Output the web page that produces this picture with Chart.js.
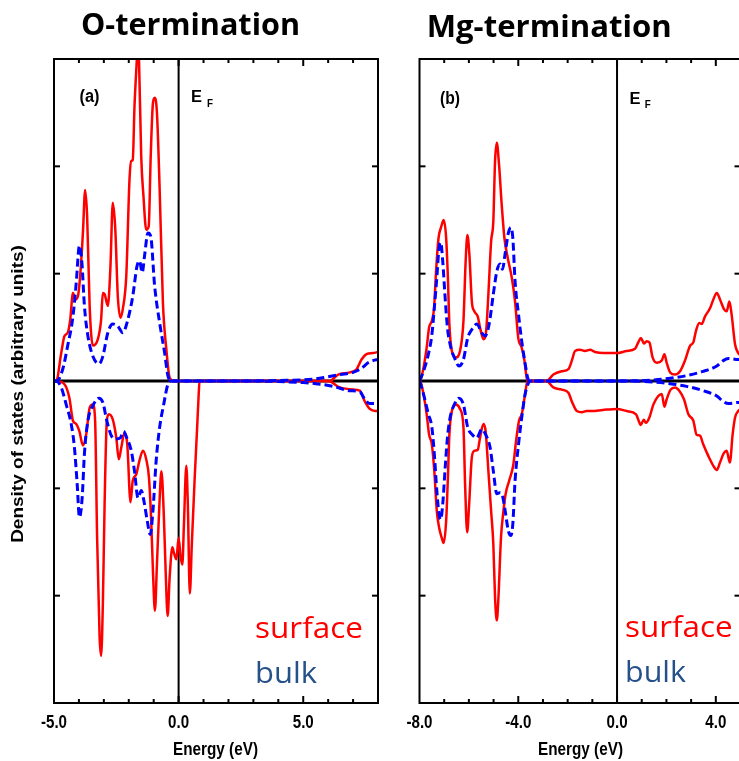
<!DOCTYPE html>
<html>
<head>
<meta charset="utf-8">
<script src="https://cdn.jsdelivr.net/npm/chart.js@4.4.1/dist/chart.umd.min.js"></script>
<style>
    html, body { margin: 0; padding: 0; background: #fff; overflow: hidden; width: 739px; height: 761px; }
    .panel { position: absolute; top: 0; width: 380px; height: 761px; }
    #wrapA { left: 0; }
    #wrapB { left: 380px; }
</style>
</head>
<body>
<div class="panel" id="wrapA"><canvas id="chartA" width="380" height="761"></canvas></div>
<div class="panel" id="wrapB"><canvas id="chartB" width="380" height="761"></canvas></div>
<script>
// axis ranges and labelled ticks
const xRangeA = [-5, 8];
const xRangeB = [-8, 5];
const yRange = [-3, 3];
const xTicksA = [-5, 0, 5];
const xTicksB = [-8, -4, 0, 4];
const yTicks = [-2, -1, 1, 2];

// (a) O-termination, [energy eV, DOS]
const surfUpA = [[-5.0,0],[-4.91,0],[-4.71,0.26],[-4.58,0.42],[-4.45,0.45],[-4.35,0.57],[-4.24,0.82],[-4.14,0.76],[-4.04,0.79],[-3.95,0.98],[-3.84,1.38],[-3.75,1.78],[-3.67,1.53],[-3.57,0.70],[-3.44,0.33],[-3.24,0.39],[-3.11,0.57],[-3.04,0.82],[-2.97,0.81],[-2.84,0.70],[-2.74,1.04],[-2.64,1.66],[-2.54,1.41],[-2.44,0.79],[-2.33,0.59],[-2.24,0.67],[-2.10,0.98],[-1.97,1.88],[-1.90,2.05],[-1.84,2.06],[-1.77,2.56],[-1.67,3.02],[-1.63,3.2],[-1.59,3.0],[-1.50,2.09],[-1.41,1.72],[-1.30,1.41],[-1.20,1.44],[-1.12,2.09],[-1.03,2.59],[-0.96,2.64],[-0.87,2.50],[-0.76,1.78],[-0.63,0.73],[-0.49,0.29],[-0.36,0.03],[-0.2,0],[0,0],[5,0],[6.06,0],[6.40,0.06],[6.87,0.08],[7.14,0.11],[7.34,0.20],[7.54,0.25],[7.80,0.26],[8.0,0.27]];
const bulkUpA = [[-5.0,0],[-4.90,0],[-4.65,0.11],[-4.45,0.33],[-4.24,0.60],[-4.11,0.91],[-3.98,1.26],[-3.88,1.10],[-3.78,0.70],[-3.64,0.42],[-3.44,0.23],[-3.20,0.16],[-3.04,0.23],[-2.84,0.45],[-2.64,0.53],[-2.44,0.51],[-2.24,0.45],[-2.04,0.57],[-1.84,0.79],[-1.67,1.07],[-1.57,1.12],[-1.46,1.01],[-1.37,1.16],[-1.23,1.38],[-1.12,1.35],[-0.96,0.88],[-0.76,0.54],[-0.56,0.26],[-0.43,0.05],[-0.3,0],[3,0],[4,0.005],[5,0.01],[5.5,0.02],[6.0,0.04],[6.5,0.06],[7.0,0.08],[7.2,0.10],[7.4,0.13],[7.6,0.17],[7.8,0.19],[8.0,0.20]];
const surfDnA = [[-5.0,0],[-4.91,0],[-4.58,-0.03],[-4.38,-0.16],[-4.24,-0.37],[-4.11,-0.40],[-3.98,-0.47],[-3.84,-0.60],[-3.71,-0.50],[-3.57,-0.25],[-3.44,-0.22],[-3.35,-0.37],[-3.27,-1.46],[-3.17,-2.39],[-3.11,-2.56],[-3.04,-2.08],[-2.97,-1.15],[-2.88,-0.37],[-2.80,-0.31],[-2.64,-0.36],[-2.50,-0.53],[-2.40,-0.73],[-2.30,-0.62],[-2.17,-0.48],[-2.06,-0.59],[-1.93,-1.13],[-1.84,-0.93],[-1.70,-0.87],[-1.57,-0.74],[-1.43,-0.65],[-1.30,-0.73],[-1.19,-0.90],[-1.10,-1.30],[-1.03,-1.77],[-0.95,-2.14],[-0.87,-1.71],[-0.76,-1.09],[-0.69,-0.84],[-0.60,-1.21],[-0.52,-1.77],[-0.44,-2.19],[-0.36,-1.83],[-0.25,-1.55],[-0.19,-1.60],[-0.09,-1.66],[0.0,-1.46],[0.08,-1.64],[0.15,-1.71],[0.21,-1.36],[0.31,-0.79],[0.37,-1.15],[0.45,-1.98],[0.53,-1.52],[0.64,-0.93],[0.74,-0.45],[0.80,-0.15],[0.84,0],[0.98,0],[6.0,0],[6.47,-0.06],[7.0,-0.08],[7.27,-0.09],[7.47,-0.19],[7.67,-0.26],[7.9,-0.28],[8.0,-0.28]];
const bulkDnA = [[-5.0,0],[-4.91,0],[-4.71,-0.06],[-4.51,-0.22],[-4.31,-0.40],[-4.18,-0.62],[-4.07,-0.96],[-3.98,-1.27],[-3.87,-1.09],[-3.78,-0.68],[-3.64,-0.37],[-3.44,-0.23],[-3.20,-0.16],[-3.04,-0.20],[-2.88,-0.37],[-2.70,-0.51],[-2.50,-0.54],[-2.34,-0.53],[-2.21,-0.47],[-2.08,-0.53],[-1.90,-0.65],[-1.77,-0.84],[-1.63,-1.09],[-1.50,-1.02],[-1.39,-1.12],[-1.26,-1.30],[-1.14,-1.43],[-1.03,-1.21],[-0.90,-0.74],[-0.76,-0.43],[-0.60,-0.22],[-0.43,-0.03],[-0.3,0],[3,0],[4,-0.005],[5,-0.015],[5.5,-0.025],[6.2,-0.05],[6.87,-0.09],[7.27,-0.10],[7.47,-0.17],[7.67,-0.21],[8.0,-0.21]];

// (b) Mg-termination
const surfUpB = [[-8.0,0],[-7.98,0],[-7.84,0.12],[-7.71,0.31],[-7.61,0.50],[-7.50,0.56],[-7.41,0.68],[-7.33,1.02],[-7.23,1.33],[-7.13,1.43],[-7.02,1.50],[-6.92,1.33],[-6.85,0.96],[-6.79,0.53],[-6.69,0.28],[-6.53,0.22],[-6.36,0.28],[-6.22,0.56],[-6.13,1.12],[-6.06,1.36],[-5.98,1.18],[-5.88,0.74],[-5.78,0.65],[-5.64,0.60],[-5.55,0.50],[-5.41,0.39],[-5.30,0.47],[-5.21,0.81],[-5.10,1.30],[-5.01,1.49],[-4.94,2.05],[-4.87,2.22],[-4.78,2.02],[-4.67,1.64],[-4.56,1.33],[-4.43,1.15],[-4.26,0.96],[-4.13,0.74],[-4.00,0.40],[-3.86,0.31],[-3.75,0.19],[-3.66,0.03],[-3.6,0],[-2.85,0],[-2.58,0.06],[-2.24,0.09],[-1.97,0.11],[-1.83,0.19],[-1.70,0.28],[-1.50,0.29],[-1.30,0.28],[-1.09,0.29],[-0.89,0.27],[-0.55,0.26],[0,0.26],[0.39,0.28],[0.73,0.30],[0.86,0.36],[0.97,0.40],[1.09,0.35],[1.20,0.37],[1.31,0.36],[1.44,0.22],[1.61,0.17],[1.81,0.19],[1.92,0.25],[2.01,0.17],[2.15,0.08],[2.35,0.06],[2.55,0.09],[2.75,0.19],[2.96,0.33],[3.09,0.36],[3.20,0.47],[3.33,0.54],[3.43,0.53],[3.56,0.60],[3.77,0.68],[3.90,0.76],[4.04,0.82],[4.17,0.76],[4.33,0.67],[4.44,0.65],[4.55,0.74],[4.64,0.62],[4.78,0.34],[4.91,0.26],[5.0,0.24]];
const bulkUpB = [[-8.0,0],[-7.98,0.01],[-7.84,0.09],[-7.64,0.25],[-7.50,0.43],[-7.40,0.68],[-7.30,0.96],[-7.21,1.24],[-7.14,1.29],[-7.06,1.12],[-6.96,0.77],[-6.87,0.50],[-6.76,0.34],[-6.59,0.22],[-6.40,0.14],[-6.22,0.20],[-6.05,0.40],[-5.88,0.48],[-5.68,0.53],[-5.48,0.45],[-5.34,0.42],[-5.18,0.53],[-5.01,0.81],[-4.87,1.02],[-4.74,1.09],[-4.64,1.04],[-4.53,1.19],[-4.40,1.38],[-4.30,1.43],[-4.22,1.33],[-4.13,0.93],[-3.99,0.62],[-3.86,0.37],[-3.72,0.16],[-3.62,0.03],[-3.55,0],[0.5,0],[1.5,0.01],[2.15,0.025],[2.82,0.05],[3.49,0.09],[4.04,0.14],[4.3,0.19],[4.51,0.21],[4.91,0.20],[5.0,0.20]];
const surfDnB = [[-8.0,0],[-7.98,0],[-7.84,-0.12],[-7.71,-0.31],[-7.61,-0.50],[-7.50,-0.59],[-7.40,-0.84],[-7.30,-1.21],[-7.21,-1.36],[-7.10,-1.46],[-7.02,-1.51],[-6.92,-1.30],[-6.85,-0.90],[-6.79,-0.50],[-6.69,-0.28],[-6.53,-0.22],[-6.36,-0.26],[-6.22,-0.43],[-6.15,-0.99],[-6.07,-1.41],[-5.99,-1.15],[-5.88,-0.71],[-5.78,-0.65],[-5.64,-0.64],[-5.55,-0.53],[-5.41,-0.40],[-5.32,-0.47],[-5.21,-0.84],[-5.10,-1.21],[-5.01,-1.52],[-4.94,-2.02],[-4.87,-2.23],[-4.81,-2.05],[-4.70,-1.46],[-4.60,-1.21],[-4.51,-1.05],[-4.37,-0.93],[-4.20,-0.78],[-4.09,-0.56],[-3.97,-0.37],[-3.86,-0.31],[-3.75,-0.16],[-3.66,-0.03],[-3.6,0],[-2.85,0],[-2.58,-0.06],[-2.24,-0.08],[-1.97,-0.11],[-1.83,-0.19],[-1.63,-0.28],[-1.43,-0.29],[-1.23,-0.28],[-1.03,-0.28],[-0.58,-0.27],[0,-0.26],[0.39,-0.28],[0.77,-0.31],[0.86,-0.36],[0.96,-0.41],[1.08,-0.36],[1.17,-0.39],[1.31,-0.34],[1.47,-0.22],[1.67,-0.14],[1.81,-0.12],[1.92,-0.24],[2.01,-0.17],[2.17,-0.08],[2.35,-0.06],[2.52,-0.09],[2.71,-0.17],[2.89,-0.31],[3.09,-0.37],[3.22,-0.50],[3.36,-0.51],[3.49,-0.59],[3.70,-0.70],[3.90,-0.79],[4.04,-0.83],[4.17,-0.76],[4.33,-0.67],[4.44,-0.65],[4.57,-0.76],[4.68,-0.50],[4.78,-0.34],[4.91,-0.28],[5.0,-0.26]];
const bulkDnB = [[-8.0,0],[-7.98,-0.01],[-7.84,-0.12],[-7.64,-0.31],[-7.50,-0.43],[-7.40,-0.68],[-7.30,-1.02],[-7.21,-1.24],[-7.14,-1.29],[-7.06,-1.15],[-6.96,-0.81],[-6.87,-0.53],[-6.76,-0.34],[-6.59,-0.22],[-6.40,-0.16],[-6.22,-0.22],[-6.05,-0.43],[-5.86,-0.50],[-5.68,-0.53],[-5.48,-0.45],[-5.32,-0.50],[-5.14,-0.62],[-5.01,-0.84],[-4.87,-1.05],[-4.74,-1.04],[-4.64,-1.07],[-4.53,-1.21],[-4.40,-1.40],[-4.30,-1.44],[-4.22,-1.33],[-4.13,-0.93],[-3.99,-0.59],[-3.86,-0.34],[-3.72,-0.12],[-3.59,-0.02],[-3.5,0],[0.5,0],[1.5,-0.01],[2.15,-0.025],[2.82,-0.05],[3.49,-0.09],[4.04,-0.14],[4.3,-0.19],[4.51,-0.21],[4.91,-0.20],[5.0,-0.20]];

const RED = '#ff0000';
const BLUE = '#0000ff';
const BULK_TEXT = '#255089';
const AXIS_FONT = '"Liberation Sans", Arial, sans-serif';
const TITLE_FONT = '"Open Sans", "Noto Sans", sans-serif';

function toXY(arr) {
    return arr.map((p) => ({ x: p[0], y: p[1] }));
}

// draws text squeezed to a given width (w) or by a fixed x-scale (sx)
function drawText(ctx, str, x, y, font, color, opt) {
    opt = opt || {};
    ctx.save();
    ctx.font = font;
    ctx.fillStyle = color;
    ctx.textAlign = opt.align || 'center';
    ctx.textBaseline = 'alphabetic';
    let sx = opt.sx || 1;
    if (opt.w) sx = opt.w / ctx.measureText(str).width;
    ctx.translate(x, y);
    ctx.scale(sx, 1);
    ctx.fillText(str, 0, 0);
    ctx.restore();
}

function hLine(ctx, x1, x2, y) {
    ctx.beginPath(); ctx.moveTo(x1, y); ctx.lineTo(x2, y); ctx.stroke();
}
function vLine(ctx, x, y1, y2) {
    ctx.beginPath(); ctx.moveTo(x, y1); ctx.lineTo(x, y2); ctx.stroke();
}

const framePlugin = {
    id: 'frame',
    beforeDatasetsDraw(chart, args, o) {
        const { ctx, chartArea: a, scales: { x, y } } = chart;
        ctx.save();
        ctx.strokeStyle = '#000';
        ctx.lineWidth = 3;
        hLine(ctx, a.left, a.right, y.getPixelForValue(0));
        ctx.lineWidth = 2;
        vLine(ctx, x.getPixelForValue(0), a.top, a.bottom);
        ctx.restore();
    },
    afterDatasetsDraw(chart, args, o) {
        const { ctx, chartArea: a, scales: { x, y } } = chart;
        const dx = o.dx;
        ctx.save();
        ctx.strokeStyle = '#000';
        ctx.lineWidth = 2;
        ctx.strokeRect(a.left, a.top, a.right - a.left, a.bottom - a.top);

        // inward ticks: every 1 eV, longer on the labelled ones
        for (let v = Math.ceil(x.min) + 1; v < x.max; v++) {
            const px = x.getPixelForValue(v);
            const len = o.xTicks.includes(v) ? 7 : 4;
            vLine(ctx, px, a.top, a.top + len);
            vLine(ctx, px, a.bottom, a.bottom - len);
        }
        yTicks.forEach((v) => {
            const py = y.getPixelForValue(v);
            hLine(ctx, a.left, a.left + 6, py);
            hLine(ctx, a.right, a.right - 6, py);
        });
        ctx.restore();

        o.xTicks.forEach((v) => {
            drawText(ctx, v.toFixed(1), x.getPixelForValue(v), 728.3, 'bold 18px ' + AXIS_FONT, '#000', { sx: 0.84 });
        });
        drawText(ctx, 'Energy (eV)', o.energyX - dx, 755, 'bold 19px ' + AXIS_FONT, '#000', { w: 85 });

        drawText(ctx, o.title, o.titleX - dx, o.titleY, 'bold 30px ' + TITLE_FONT, '#000', { w: o.titleW });
        drawText(ctx, o.tag, o.tagX - dx, o.tagY, 'bold 18px ' + AXIS_FONT, '#000', { w: 20 });
        drawText(ctx, 'E', o.efX - dx, o.efY, 'bold 16px ' + AXIS_FONT, '#000', { w: 11 });
        drawText(ctx, 'F', o.fX - dx, o.fY, 'bold 10px ' + AXIS_FONT, '#000', { w: 6 });

        drawText(ctx, 'surface', o.legX - dx, o.surfY, '29px ' + TITLE_FONT, RED, { w: o.surfW, align: 'left' });
        drawText(ctx, 'bulk', o.legX - dx, o.bulkY, '29px ' + TITLE_FONT, BULK_TEXT, { w: o.bulkW, align: 'left' });

        if (o.yLabel) {
            ctx.save();
            ctx.font = 'bold 19px ' + AXIS_FONT;
            ctx.fillStyle = '#000';
            ctx.textAlign = 'center';
            ctx.translate(23, 394);
            ctx.scale(0.83, 1);
            ctx.rotate(-Math.PI / 2);
            ctx.fillText(o.yLabel, 0, 0);
            ctx.restore();
        }
    },
};

function solid(data) {
    return { data: toXY(data), borderColor: RED, borderWidth: 2.5, showLine: true, order: 2 };
}
function dashed(data) {
    return { data: toXY(data), borderColor: BLUE, borderWidth: 3, borderDash: [8, 4], showLine: true, order: 1 };
}

function makePanel(id, xRange, pad, sets, opts) {
    return new Chart(document.getElementById(id), {
        type: 'scatter',
        data: {
            datasets: [solid(sets[0]), solid(sets[1]), dashed(sets[2]), dashed(sets[3])],
        },
        options: {
            responsive: false,
            animation: false,
            events: [],
            elements: {
                point: { radius: 0, hoverRadius: 0 },
                line: { cubicInterpolationMode: 'monotone', fill: false, borderJoinStyle: 'round' },
            },
            layout: { padding: { left: pad[0], right: pad[1], top: 59, bottom: 58 } },
            scales: {
                x: { type: 'linear', min: xRange[0], max: xRange[1], display: false },
                y: { type: 'linear', min: yRange[0], max: yRange[1], display: false },
            },
            plugins: {
                legend: { display: false },
                tooltip: { enabled: false },
                frame: opts,
            },
        },
        plugins: [framePlugin],
    });
}

makePanel('chartA', xRangeA, [54, 2], [surfUpA, surfDnA, bulkUpA, bulkDnA], {
    dx: 0, xTicks: xTicksA,
    title: 'O-termination', titleX: 190.5, titleY: 34.5, titleW: 219,
    tag: '(a)', tagX: 89.5, tagY: 101.5,
    efX: 196.5, efY: 101.7, fX: 210, fY: 106.7,
    legX: 255, surfY: 638, bulkY: 682.7, surfW: 108, bulkW: 62,
    energyX: 215.5,
    yLabel: 'Density of states (arbitrary units)',
});

makePanel('chartB', xRangeB, [39.5, 19.5], [surfUpB, surfDnB, bulkUpB, bulkDnB], {
    dx: 380, xTicks: xTicksB,
    title: 'Mg-termination', titleX: 549.2, titleY: 36.5, titleW: 245,
    tag: '(b)', tagX: 450, tagY: 103.5,
    efX: 635, efY: 104, fX: 647.8, fY: 108.3,
    legX: 625, surfY: 637.3, bulkY: 682, surfW: 107.7, bulkW: 61,
    energyX: 580.5,
    yLabel: null,
});
</script>
</body>
</html>
